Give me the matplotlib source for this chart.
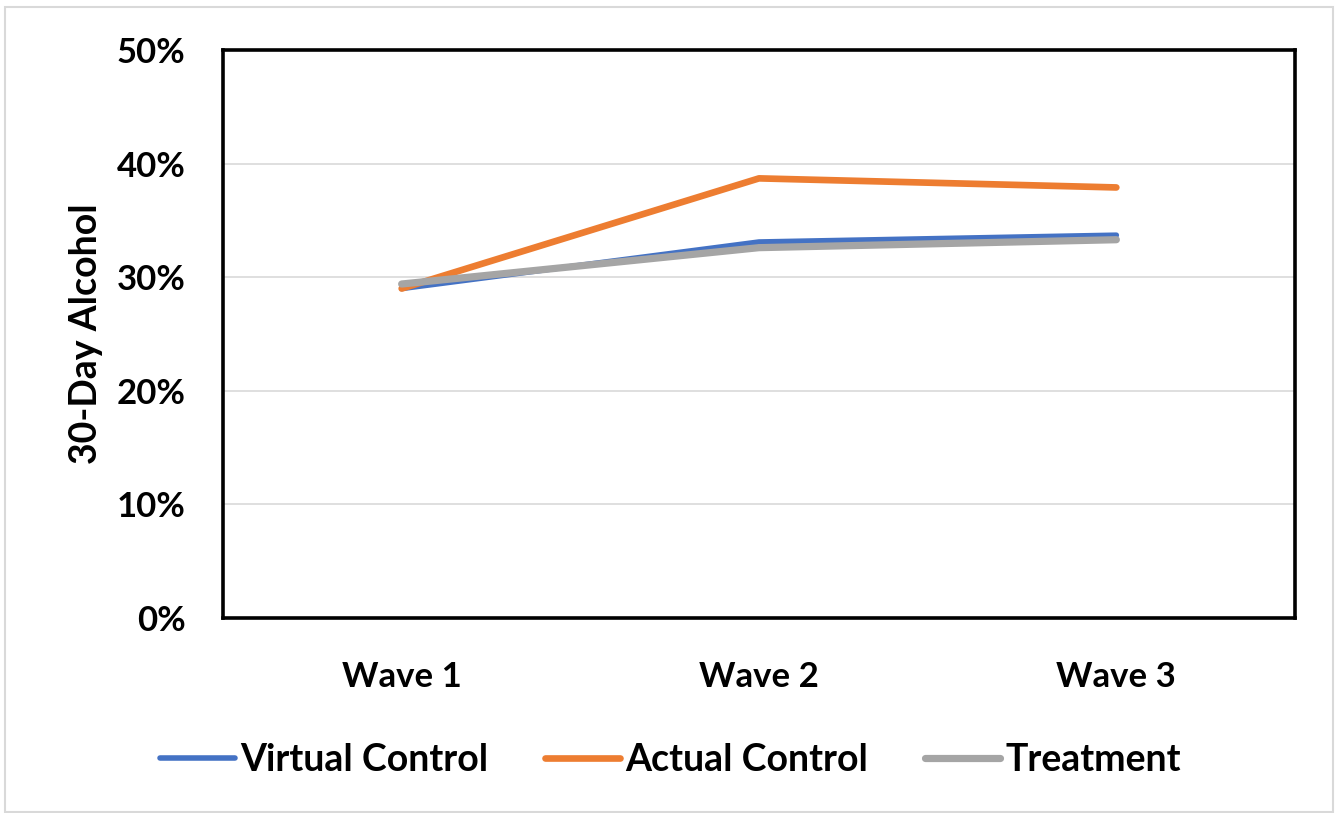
import matplotlib.pyplot as plt
from matplotlib.ticker import PercentFormatter

waves = ['Wave 1', 'Wave 2', 'Wave 3']
virtual_control = [29.0, 33.1, 33.7]
actual_control = [29.0, 38.7, 37.9]
treatment = [29.4, 32.6, 33.3]

plt.rcParams['font.family'] = ['Lato', 'DejaVu Sans']
plt.rcParams['font.weight'] = 'bold'

fig = plt.figure(figsize=(13.41, 8.13), dpi=100)
ax = fig.add_axes([223 / 1341, 1 - 618 / 813, (1295 - 223) / 1341, (618 - 50) / 813])

x = range(len(waves))
ax.plot(x, virtual_control, color='#4472C4', lw=4.0, solid_capstyle='round', label='Virtual Control')
ax.plot(x, actual_control, color='#ED7D31', lw=4.8, solid_capstyle='round', label='Actual Control')
ax.plot(x, treatment, color='#A5A5A5', lw=5.2, solid_capstyle='round', label='Treatment')

ax.set_xlim(-0.5, 2.5)
ax.set_ylim(0, 50)
ax.set_yticks(range(0, 51, 10))
ax.yaxis.set_major_formatter(PercentFormatter(decimals=0))
ax.set_xticks(list(x))
ax.set_xticklabels(waves)
ax.grid(axis='y', color='#D9D9D9', lw=1.2)
ax.set_axisbelow(True)
ax.tick_params(length=0, labelsize=25)
ax.tick_params(axis='y', pad=27)
ax.tick_params(axis='x', pad=31)
for s in ax.spines.values():
    s.set_linewidth(2.6)
    s.set_color('black')

ax.set_ylabel('30-Day Alcohol', fontsize=27, fontweight='bold', labelpad=10)

fig.legend(loc='center', bbox_to_anchor=(0.5, 1 - 760 / 813), ncol=3, frameon=False,
           fontsize=27, handlelength=2.0, handletextpad=0.15, columnspacing=1.5)

# thin grey border round the whole figure
fig.patches.append(plt.Rectangle((5 / 1341, 1 - 812 / 813), 1328 / 1341, 805 / 813,
                                 transform=fig.transFigure, fill=False,
                                 edgecolor='#D9D9D9', lw=1.5))

fig.savefig('out.png', dpi=100)
